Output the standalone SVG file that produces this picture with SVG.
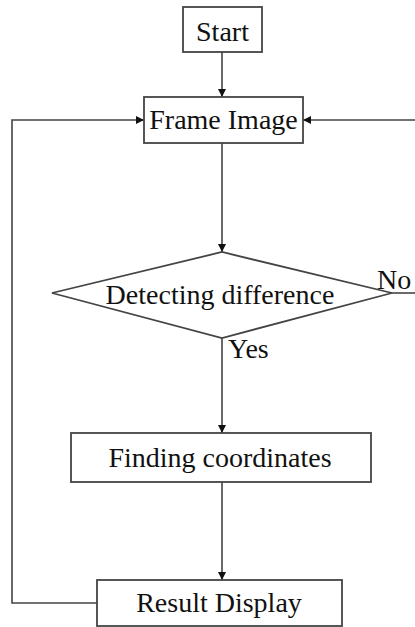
<svg xmlns="http://www.w3.org/2000/svg" width="415" height="627" viewBox="0 0 415 627">
<style>
.box{fill:#fff;stroke:#444;stroke-width:1.8}
.t{font-family:"Liberation Serif","Times New Roman",serif;font-size:28px;fill:#111}
.c{fill:none;stroke:#444;stroke-width:1.6}
</style>
<defs>
<marker id="arr" viewBox="0 0 10 10" refX="10" refY="5" markerWidth="8" markerHeight="8" markerUnits="userSpaceOnUse" orient="auto">
<path d="M0,0 L10,5 L0,10 z" fill="#111"/>
</marker>
</defs>
<rect width="415" height="627" fill="#fff"/>
<g id="connectors">
<line class="c" x1="222" y1="52" x2="222" y2="97" marker-end="url(#arr)"/>
<line class="c" x1="222" y1="143" x2="222" y2="252" marker-end="url(#arr)"/>
<line class="c" x1="222" y1="338" x2="222" y2="433" marker-end="url(#arr)"/>
<line class="c" x1="222" y1="482" x2="222" y2="580" marker-end="url(#arr)"/>
<polyline class="c" points="392,293 416,293"/>
<polyline class="c" points="416,120 303,120" marker-end="url(#arr)"/>
<polyline class="c" points="97,603 12,603 12,120 144,120" marker-end="url(#arr)"/>
</g>
<g id="start">
<rect class="box" x="183" y="7" width="79" height="45"/>
<text class="t" x="222.5" y="41" text-anchor="middle">Start</text>
</g>
<g id="frame-image">
<rect class="box" x="144" y="97" width="159" height="46"/>
<text class="t" x="223.5" y="129" text-anchor="middle">Frame Image</text>
</g>
<g id="detecting-difference">
<polygon class="box" points="52,293 222,252 392,293 222,338"/>
<text class="t" x="220" y="304" text-anchor="middle">Detecting difference</text>
<text class="t" x="377" y="289">No</text>
<text class="t" x="228" y="358">Yes</text>
</g>
<g id="finding-coordinates">
<rect class="box" x="71" y="433" width="300" height="49"/>
<text class="t" x="220" y="467" text-anchor="middle">Finding coordinates</text>
</g>
<g id="result-display">
<rect class="box" x="97" y="580" width="245" height="46"/>
<text class="t" x="219" y="612" text-anchor="middle">Result Display</text>
</g>
</svg>
